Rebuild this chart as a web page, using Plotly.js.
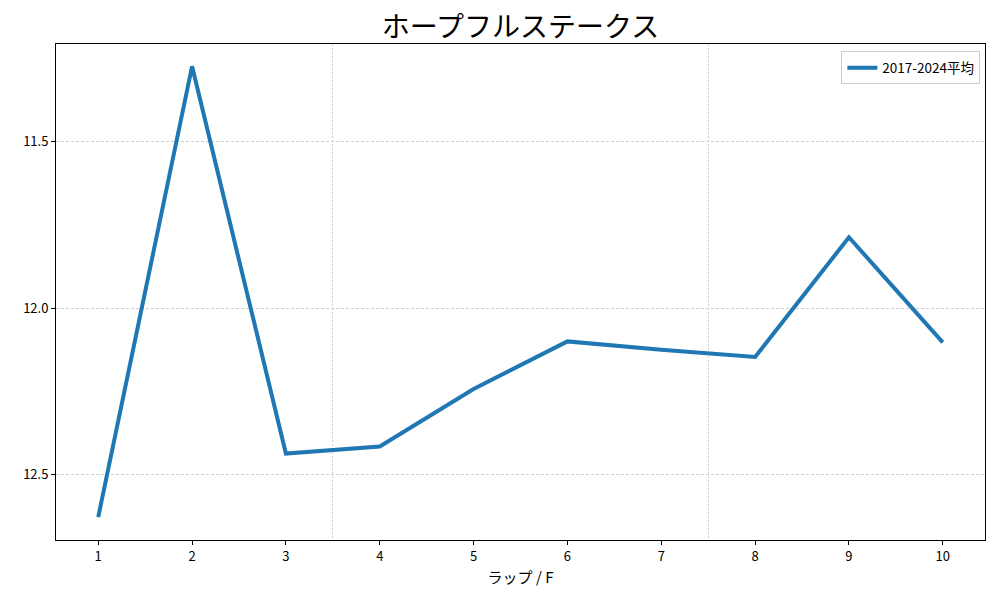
<!DOCTYPE html>
<html>
<head>
<meta charset="utf-8">
<script src="https://cdn.plot.ly/plotly-3.0.1.min.js"></script>
<style>html,body{margin:0;padding:0;background:#fff;}#chart{width:1000px;height:600px;}</style>
</head>
<body>
<div id="chart"></div>
<script>
const laps = [1, 2, 3, 4, 5, 6, 7, 8, 9, 10];
const avgTimes = [12.628, 11.273, 12.437, 12.416, 12.243, 12.10, 12.125, 12.147, 11.787, 12.103];
const seriesName = '2017-2024平均';
const yTicks = [11.5, 12.0, 12.5];
const minorX = [3.5, 7.5];

const font = '"Noto Sans CJK JP", "DejaVu Sans", sans-serif';

const trace = {
  x: laps, y: avgTimes, type: 'scatter', mode: 'lines', name: seriesName,
  line: {color: '#1f77b4', width: 4}
};

const layout = {
  width: 1000, height: 600,
  margin: {l: 56, r: 15, t: 44, b: 60},
  paper_bgcolor: '#fff', plot_bgcolor: '#fff',
  font: {family: font, color: '#000', size: 13},
  title: {text: 'ホープフルステークス', xref: 'paper', x: 0.5, xanchor: 'center', y: 0.955, yanchor: 'middle', font: {size: 28, color: '#000'}},
  showlegend: true,
  legend: {x: 0.995, xanchor: 'right', y: 0.985, yanchor: 'top', bgcolor: 'rgba(255,255,255,0.8)', bordercolor: '#ccc', borderwidth: 1, font: {size: 13.5}},
  xaxis: {
    range: [0.55, 10.45], tickmode: 'array', tickvals: laps, ticktext: laps.map(String),
    ticks: 'outside', ticklen: 4, tickcolor: '#000', showgrid: false, zeroline: false,
    showline: true, linecolor: '#000', linewidth: 1, mirror: true,
    tickfont: {size: 13},
    title: {text: 'ラップ / F', font: {size: 15}, standoff: 8},
    minor: {tickvals: minorX, showgrid: true, gridcolor: '#c4c4c4', griddash: '2px,2px', gridwidth: 0.8, ticklen: 0}
  },
  yaxis: {
    range: [12.697, 11.206], tickmode: 'array', tickvals: yTicks, ticktext: yTicks.map(v => v.toFixed(1)),
    ticks: 'outside', ticklen: 4, tickcolor: '#000', showgrid: true, gridcolor: '#c4c4c4', griddash: '3px,2px', gridwidth: 0.8,
    zeroline: false, showline: true, linecolor: '#000', linewidth: 1, mirror: true,
    tickfont: {size: 13}
  }
};

Plotly.newPlot('chart', [trace], layout, {displayModeBar: false, staticPlot: true});
</script>
</body>
</html>
